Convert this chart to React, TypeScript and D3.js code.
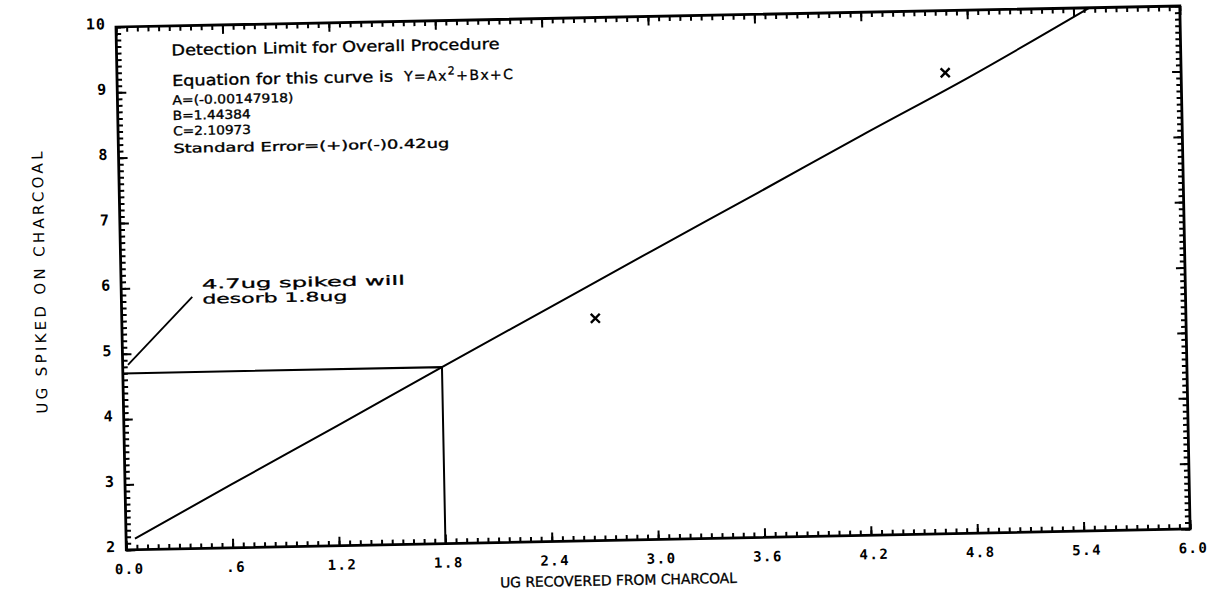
import React, { useRef, useEffect } from "react";
import * as d3 from "d3";

// axis ticks
const xTickValues = [0, 0.6, 1.2, 1.8, 2.4, 3.0, 3.6, 4.2, 4.8, 5.4, 6.0];
const xTickLabels = ["0.0", ".6", "1.2", "1.8", "2.4", "3.0", "3.6", "4.2", "4.8", "5.4", "6.0"];
const yTickValues = [2, 3, 4, 5, 6, 7, 8, 9, 10];
const yTickLabels = ["2", "3", "4", "5", "6", "7", "8", "9", "10"];

// fitted curve
const curveX = [0.05, 0.6, 1.2, 1.8, 2.4, 3.0, 3.6, 4.2, 4.8, 5.49];
const curveY = [2.17, 2.97, 3.83, 4.7, 5.56, 6.42, 7.27, 8.13, 8.97, 10.0];

// measured points (the x marks)
const pointX = [2.67, 4.67];
const pointY = [5.4, 9.05];

// detection limit guide + leader to the note
const limitX = 1.8;
const limitY = 4.7;
const leaderX = [0.03, 0.4];
const leaderY = [4.83, 5.85];

const infoLines = [
  "Detection Limit for Overall Procedure",
  "Equation for this curve is",
  "A=(-0.00147918)",
  "B=1.44384",
  "C=2.10973",
  "Standard Error=(+)or(-)0.42ug",
];
const noteLines = ["4.7ug spiked will", "desorb 1.8ug"];
const xTitle = "UG RECOVERED FROM CHARCOAL";
const yTitle = "UG SPIKED ON CHARCOAL";

export default function App() {
  const svgRef = useRef<SVGSVGElement>(null);

  useEffect(() => {
    const svg = d3.select(svgRef.current);
    svg.selectAll("*").remove();

    const width = 1064;
    const height = 523;
    const x = d3.scaleLinear().domain([0, 6]).range([0, width]);
    const y = d3.scaleLinear().domain([2, 10]).range([height, 0]);

    // the scanned page is a little tilted
    const g = svg.append("g").attr("transform", "translate(116,27) rotate(-1.13)");

    const xMinor = d3.range(0, 101).map((i) => i * 0.06);
    const yMinor = d3.range(0, 81).map((i) => 2 + i * 0.1);

    const addAxis = (axis: any, transform: string, values: number[], size: number) => {
      const a = g
        .append("g")
        .attr("transform", transform)
        .call(axis.tickValues(values).tickSize(size).tickSizeOuter(0).tickFormat(() => ""));
      a.select(".domain").remove();
      a.selectAll("line").attr("stroke", "#000").attr("stroke-width", 2);
    };

    // ticks all point inward
    addAxis(d3.axisBottom(x), `translate(0,${height})`, xMinor, -5);
    addAxis(d3.axisBottom(x), `translate(0,${height})`, xTickValues, -9);
    addAxis(d3.axisTop(x), "translate(0,0)", xMinor, -5);
    addAxis(d3.axisTop(x), "translate(0,0)", xTickValues, -9);
    addAxis(d3.axisLeft(y), "translate(0,0)", yMinor, -5);
    addAxis(d3.axisLeft(y), "translate(0,0)", yTickValues, -9);
    addAxis(d3.axisRight(y), `translate(${width},0)`, yMinor, -5);
    addAxis(d3.axisRight(y), `translate(${width},0)`, yTickValues, -9);

    g.append("rect")
      .attr("width", width)
      .attr("height", height)
      .attr("fill", "none")
      .attr("stroke", "#000")
      .attr("stroke-width", 2.8);

    // tick labels
    g.selectAll(".xlab")
      .data(xTickValues)
      .join("text")
      .attr("class", "xlab")
      .attr("x", (d) => x(d) + 3)
      .attr("y", height + 24)
      .attr("text-anchor", "middle")
      .attr("font-family", "DejaVu Sans Mono")
      .attr("font-weight", "bold")
      .attr("font-size", 14)
      .attr("letter-spacing", 1.5)
      .text((d, i) => xTickLabels[i]);

    g.selectAll(".ylab")
      .data(yTickValues)
      .join("text")
      .attr("class", "ylab")
      .attr("x", -10)
      .attr("y", (d) => y(d) + 2)
      .attr("text-anchor", "end")
      .attr("font-family", "DejaVu Sans Mono")
      .attr("font-weight", "bold")
      .attr("font-size", 15)
      .attr("letter-spacing", 1)
      .text((d, i) => yTickLabels[i]);

    // axis titles
    g.append("text")
      .attr("x", 373)
      .attr("y", height + 45)
      .attr("font-family", "DejaVu Sans")
      .attr("font-size", 14)
      .attr("stroke", "#000")
      .attr("stroke-width", 0.3)
      .attr("textLength", 237)
      .attr("lengthAdjust", "spacingAndGlyphs")
      .text(xTitle);

    g.append("text")
      .attr("transform", `translate(-76,254) rotate(-90)`)
      .attr("text-anchor", "middle")
      .attr("font-family", "DejaVu Sans")
      .attr("font-size", 15)
      .attr("textLength", 262)
      .attr("lengthAdjust", "spacing")
      .text(yTitle);

    // guide lines for the detection limit
    const lineGen = d3
      .line<[number, number]>()
      .x((d) => x(d[0]))
      .y((d) => y(d[1]));

    g.append("path")
      .attr("d", lineGen([[0, limitY], [limitX, limitY], [limitX, 2]]))
      .attr("fill", "none")
      .attr("stroke", "#000")
      .attr("stroke-width", 2);

    g.append("path")
      .attr("d", lineGen(leaderX.map((v, i) => [v, leaderY[i]] as [number, number])))
      .attr("fill", "none")
      .attr("stroke", "#000")
      .attr("stroke-width", 1.8);

    // fitted curve
    const curveGen = d3
      .line<number>()
      .x((d) => x(d))
      .y((d, i) => y(curveY[i]))
      .curve(d3.curveMonotoneX);
    g.append("path")
      .attr("d", curveGen(curveX))
      .attr("fill", "none")
      .attr("stroke", "#000")
      .attr("stroke-width", 2);

    // measured points
    g.selectAll(".pt")
      .data(pointX)
      .join("path")
      .attr("class", "pt")
      .attr("transform", (d, i) => `translate(${x(d)},${y(pointY[i])})`)
      .attr("d", d3.symbol().type(d3.symbolX).size(55)())
      .attr("fill", "none")
      .attr("stroke", "#000")
      .attr("stroke-width", 2.4);

    // info block
    const infoY = [29.5, 60, 78.5, 94, 109.5, 127];
    const infoLen = [328, 221, 121, 78, 78, 276];
    const infoSize = [15, 15, 12.5, 12.5, 12.5, 12.5];
    infoLines.forEach((t, i) => {
      g.append("text")
        .attr("x", 55)
        .attr("y", infoY[i])
        .attr("font-family", "DejaVu Sans")
        .attr("font-size", infoSize[i])
        .attr("stroke", "#000")
        .attr("stroke-width", 0.35)
        .attr("textLength", infoLen[i])
        .attr("lengthAdjust", "spacingAndGlyphs")
        .text(t);
    });

    const eq = g
      .append("text")
      .attr("x", 287)
      .attr("y", infoY[1])
      .attr("font-family", "DejaVu Sans")
      .attr("font-size", 14)
      .attr("stroke", "#000")
      .attr("stroke-width", 0.3)
      .attr("letter-spacing", 1.4);
    eq.append("tspan").text("Y=Ax");
    eq.append("tspan").attr("dy", -6).attr("font-size", 11).text("2");
    eq.append("tspan").attr("dy", 6).text("+Bx+C");

    // note at the leader line
    const noteLen = [203, 145];
    noteLines.forEach((t, i) => {
      g.append("text")
        .attr("x", x(leaderX[1]) + 10)
        .attr("y", y(leaderY[1]) - 8 + i * 15)
        .attr("font-family", "DejaVu Sans")
        .attr("font-size", 13)
        .attr("stroke", "#000")
        .attr("stroke-width", 0.3)
        .attr("textLength", noteLen[i])
        .attr("lengthAdjust", "spacingAndGlyphs")
        .text(t);
    });
  }, []);

  return (
    <svg
      ref={svgRef}
      width={1215}
      height={590}
      style={{ position: "absolute", left: 0, top: 0, background: "#fff" }}
    />
  );
}
